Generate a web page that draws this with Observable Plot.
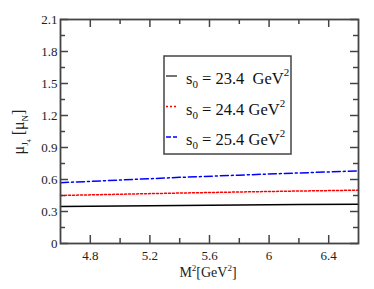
<!DOCTYPE html>
<html>
<head>
<meta charset="utf-8">
<script src="https://cdn.jsdelivr.net/npm/d3@7"></script>
<script src="https://cdn.jsdelivr.net/npm/@observablehq/plot@0.6"></script>
<style>
  html, body { margin: 0; padding: 0; background: white; }
  svg text, svg tspan { font-family: "Liberation Serif", "Times New Roman", serif !important; }
</style>
</head>
<body>
<div id="chart"></div>
<script>
// Data
const M2 = [4.6, 5.0, 5.4, 5.8, 6.2, 6.6];
const mu_s0_234 = [0.347, 0.352, 0.357, 0.361, 0.365, 0.369];
const mu_s0_244 = [0.450, 0.462, 0.473, 0.483, 0.492, 0.500];
const mu_s0_254 = [0.570, 0.595, 0.620, 0.641, 0.661, 0.681];
const s0Values = ["23.4 ", "24.4", "25.4"];
const seriesColors = ["#000000", "#ff0000", "#0000ff"];
const seriesDash = [null, "2,2", "8,3,2,3"];

const xMajor = [4.8, 5.2, 5.6, 6, 6.4];
const xMinor = [5.0, 5.4, 5.8, 6.2];
const yMajor = [0, 0.3, 0.6, 0.9, 1.2, 1.5, 1.8, 2.1];
const yMinor = [0.15, 0.45, 0.75, 1.05, 1.35, 1.65, 1.95];

const W = 374, H = 289, mL = 60, mR = 16, mT = 19, mB = 46;
const fw = W - mL - mR, fh = H - mT - mB;
const tickCol = "#444";
const font = "Liberation Serif";

const seriesY = [mu_s0_234, mu_s0_244, mu_s0_254];
const rows = [];
seriesY.forEach((ys, k) => ys.forEach((v, i) => rows.push({x: M2[i], y: v, s: k})));

const lineMarks = seriesY.map((ys, k) =>
  Plot.line(rows.filter(r => r.s === k), {
    x: "x", y: "y", stroke: seriesColors[k], strokeWidth: 1.5,
    strokeDasharray: seriesDash[k] || undefined
  })
);

const chart = Plot.plot({
  width: W, height: H,
  marginLeft: mL, marginRight: mR, marginTop: mT, marginBottom: mB,
  x: {domain: [4.6, 6.6]},
  y: {domain: [0, 2.1]},
  style: {fontFamily: font, fontSize: "12px", background: "white", color: "#222"},
  marks: [
    ...lineMarks,
    Plot.tickY(yMajor, {y: d => d, insetRight: fw - 8, stroke: tickCol, strokeWidth: 1.5}),
    Plot.tickY(yMinor, {y: d => d, insetRight: fw - 5, stroke: tickCol, strokeWidth: 1.5}),
    Plot.tickY(yMajor, {y: d => d, insetLeft: fw - 8, stroke: tickCol, strokeWidth: 1.5}),
    Plot.tickY(yMinor, {y: d => d, insetLeft: fw - 5, stroke: tickCol, strokeWidth: 1.5}),
    Plot.tickX(xMajor, {x: d => d, insetTop: fh - 8, stroke: tickCol, strokeWidth: 1.5}),
    Plot.tickX(xMinor, {x: d => d, insetTop: fh - 5, stroke: tickCol, strokeWidth: 1.5}),
    Plot.tickX(xMajor, {x: d => d, insetBottom: fh - 8, stroke: tickCol, strokeWidth: 1.5}),
    Plot.tickX(xMinor, {x: d => d, insetBottom: fh - 5, stroke: tickCol, strokeWidth: 1.5}),
    Plot.axisY(yMajor, {tickSize: 0, tickPadding: 3, label: null, tickFormat: d => String(d), fontSize: 13, fontFamily: font}),
    Plot.axisX(xMajor, {tickSize: 0, tickPadding: 7, label: null, tickFormat: d => String(d), fontSize: 13, fontFamily: font}),
    Plot.frame({stroke: tickCol, strokeWidth: 1.8})
  ]
});
document.getElementById("chart").appendChild(chart);

const svg = d3.select(chart);

// x axis label
const xl = svg.append("text").attr("x", 208).attr("y", 277).attr("text-anchor", "middle")
  .attr("font-family", font).attr("font-size", 14).attr("fill", "#222");
xl.append("tspan").text("M");
xl.append("tspan").attr("dy", -6).attr("font-size", 9).text("2");
xl.append("tspan").attr("dy", 6).text("[GeV");
xl.append("tspan").attr("dy", -6).attr("font-size", 9).text("2");
xl.append("tspan").attr("dy", 6).text("]");

// y axis label
const yl = svg.append("text").attr("transform", "translate(24,132) rotate(-90)")
  .attr("text-anchor", "middle").attr("font-family", font).attr("font-size", 16).attr("fill", "#222");
yl.append("tspan").text("μ");
yl.append("tspan").attr("dy", 4).attr("font-size", 9).text("J");
yl.append("tspan").attr("dy", 3).attr("font-size", 6).text("4");
yl.append("tspan").attr("dy", -7).text(" [μ");
yl.append("tspan").attr("dy", 4).attr("font-size", 9).text("N");
yl.append("tspan").attr("dy", -4).text("]");

// legend
const lg = svg.append("g");
lg.append("rect").attr("x", 164).attr("y", 56).attr("width", 127).attr("height", 98)
  .attr("fill", "white").attr("stroke", tickCol).attr("stroke-width", 1.5);
s0Values.forEach((v, k) => {
  const base = 84 + 30.5 * k;
  lg.append("line").attr("x1", 166).attr("x2", 177).attr("y1", base - 8).attr("y2", base - 8)
    .attr("stroke", k === 0 ? "#444" : seriesColors[k]).attr("stroke-width", 1.5)
    .attr("stroke-dasharray", k === 0 ? null : (k === 1 ? "2,2" : "5,2"));
  const t = lg.append("text").attr("x", 186).attr("y", base).attr("text-anchor", "start")
    .attr("font-family", font).attr("font-size", 16.5).attr("fill", "#111").style("white-space", "pre");
  t.append("tspan").text("s");
  t.append("tspan").attr("dy", 4).attr("font-size", 11).text("0");
  t.append("tspan").attr("dy", -4).text(" = " + v + " GeV");
  t.append("tspan").attr("dy", -8).attr("font-size", 11).text("2");
});
</script>
</body>
</html>
